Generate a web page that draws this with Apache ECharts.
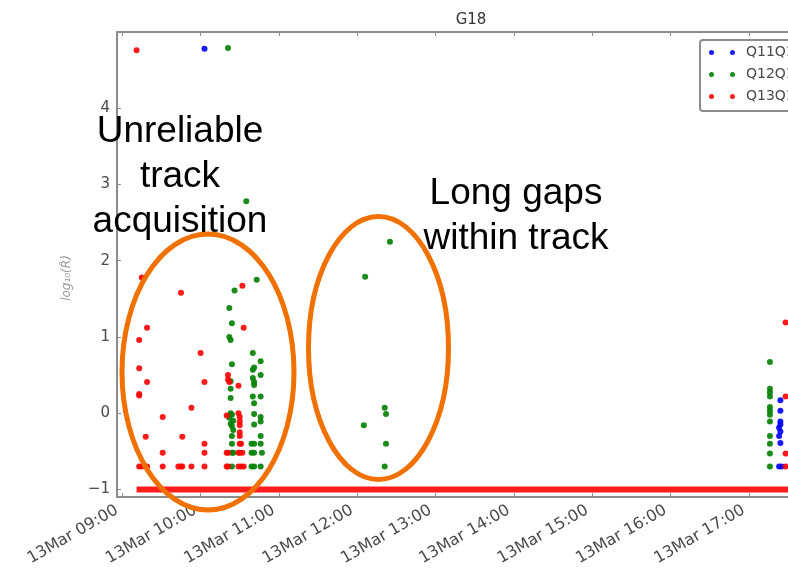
<!DOCTYPE html>
<html>
<head>
<meta charset="utf-8">
<script src="https://cdn.jsdelivr.net/npm/echarts@6/dist/echarts.min.js"></script>
<style>
  html, body { margin: 0; padding: 0; background: #fff; }
  #chart { width: 788px; height: 574px; }
</style>
</head>
<body>
<div id="chart"></div>
<script>
// Track quality for G18 on 13 March: log10 of R-hat per acquisition time (HH:MM)
const seriesNames = ['Q11Q12', 'Q12Q13', 'Q13Q11'];
const seriesColors = ['#0000ff', '#008000', '#ff0000'];

const q11Points = [
  ['10:03', 4.78],
  ['17:24', 0.17], ['17:24', 0.03], ['17:24', -0.11], ['17:24', -0.15],
  ['17:23', -0.19], ['17:24', -0.24], ['17:23', -0.30], ['17:24', -0.39],
  ['17:23', -0.70], ['17:25', -0.70]
];

const q12Points = [
  ['10:21', 4.79], ['10:35', 2.78],
  // 10:20 - 10:26 column
  ['10:26', 1.61], ['10:22', 1.38], ['10:24', 1.18], ['10:22', 1.00], ['10:23', 0.96],
  ['10:24', 0.64], ['10:23', 0.42], ['10:23', 0.32], ['10:23', 0.20], ['10:23', 0.00],
  ['10:24', -0.02], ['10:22', -0.06], ['10:25', -0.10], ['10:23', -0.14], ['10:24', -0.17],
  ['10:25', -0.22], ['10:24', -0.30], ['10:24', -0.40], ['10:24', -0.52], ['10:25', -0.52],
  ['10:24', -0.70],
  // 10:39 - 10:47 column
  ['10:43', 1.75], ['10:40', 0.79], ['10:46', 0.68], ['10:41', 0.60], ['10:40', 0.57],
  ['10:46', 0.50], ['10:40', 0.46], ['10:41', 0.41], ['10:41', 0.37], ['10:40', 0.22],
  ['10:46', 0.22], ['10:41', 0.13], ['10:41', -0.01], ['10:46', -0.05], ['10:46', -0.11],
  ['10:41', -0.15], ['10:46', -0.30],
  ['10:39', -0.40], ['10:41', -0.40], ['10:46', -0.40],
  ['10:39', -0.52], ['10:41', -0.52], ['10:47', -0.52],
  ['10:39', -0.70], ['10:41', -0.70], ['10:46', -0.70],
  // around 12:00 - 12:30
  ['12:25', 2.25], ['12:06', 1.79], ['12:21', 0.07], ['12:22', -0.01],
  ['12:05', -0.16], ['12:22', -0.40], ['12:21', -0.70],
  // around 17:16
  ['17:16', 0.67], ['17:16', 0.32], ['17:16', 0.27], ['17:16', 0.22], ['17:16', 0.08],
  ['17:16', 0.03], ['17:16', -0.02], ['17:16', -0.11], ['17:16', -0.30], ['17:16', -0.40],
  ['17:16', -0.53], ['17:16', -0.70]
];

const q13Points = [
  ['09:11', 4.76],
  // 09:10 - 10:05
  ['09:15', 1.78], ['09:45', 1.58], ['09:19', 1.12], ['09:13', 0.96], ['10:00', 0.79],
  ['09:13', 0.59], ['09:19', 0.41], ['10:03', 0.41], ['09:13', 0.25], ['09:13', 0.23],
  ['09:53', 0.07], ['09:31', -0.05], ['09:18', -0.31], ['09:46', -0.31], ['10:03', -0.40],
  ['09:31', -0.52], ['10:03', -0.52],
  ['09:13', -0.70], ['09:15', -0.70], ['09:19', -0.70], ['09:31', -0.70], ['09:43', -0.70],
  ['09:45', -0.70], ['09:46', -0.70], ['09:53', -0.70], ['10:03', -0.70],
  // 10:20 - 10:35
  ['10:32', 1.67], ['10:33', 1.12], ['10:21', 0.50], ['10:21', 0.44], ['10:22', 0.41],
  ['10:29', 0.36], ['10:20', -0.03], ['10:29', 0.00], ['10:30', -0.05], ['10:30', -0.11],
  ['10:30', -0.16], ['10:30', -0.25], ['10:30', -0.30], ['10:30', -0.40], ['10:31', -0.40],
  ['10:20', -0.52], ['10:21', -0.52], ['10:29', -0.52], ['10:30', -0.52], ['10:32', -0.52],
  ['10:20', -0.70], ['10:21', -0.70], ['10:29', -0.70], ['10:31', -0.70], ['10:33', -0.70],
  // around 17:28
  ['17:28', 1.19], ['17:28', 0.22], ['17:28', -0.53], ['17:28', -0.70]
];

// Floor value recorded continuously while the track is held
const floorSpan = [['09:11', -1], ['17:40', -1]];

const xTickHours = [9, 10, 11, 12, 13, 14, 15, 16, 17];
const xTickPrefix = '13Mar ';
const yTicks = [-1, 0, 1, 2, 3, 4];

function toHours(hhmm) {
  const parts = hhmm.split(':').map(Number);
  return parts[0] + parts[1] / 60;
}
function toXY(list) {
  return list.map(p => [toHours(p[0]), p[1]]);
}
function pad2(n) { return (n < 10 ? '0' : '') + n; }

const axisGray = '#8c8c8c';
const labelGray = '#4a4a4a';
// visible time window of the plot
const xMin = toHours('08:56');
const xMax = 17.497;

const chart = echarts.init(document.getElementById('chart'), null, { renderer: 'canvas' });

const pointSeries = [q11Points, q12Points, q13Points].map((pts, i) => ({
  name: seriesNames[i],
  type: 'scatter',
  data: toXY(pts),
  symbol: 'circle',
  symbolSize: 6,
  itemStyle: { color: seriesColors[i], opacity: 0.9 },
  z: 3 + i
}));

const option = {
  animation: false,
  backgroundColor: '#ffffff',
  title: {
    text: 'G18',
    left: 466,
    top: 8,
    textAlign: 'center',
    textStyle: { fontFamily: 'DejaVu Sans', fontSize: 15, fontWeight: 'normal', color: '#333' }
  },
  legend: {
    data: seriesNames,
    orient: 'vertical',
    left: 700,
    top: 40,
    padding: [5, 8, 7, 9],
    itemGap: 7,
    itemWidth: 26,
    itemHeight: 5,
    icon: 'path://M0,2.5A2.5,2.5,0,1,1,5,2.5A2.5,2.5,0,1,1,0,2.5ZM21,2.5A2.5,2.5,0,1,1,26,2.5A2.5,2.5,0,1,1,21,2.5Z',
    backgroundColor: '#fff',
    borderColor: axisGray,
    borderWidth: 2,
    borderRadius: 3,
    textStyle: { fontFamily: 'DejaVu Sans', fontSize: 14, color: labelGray, padding: [0, 0, 0, 6], lineHeight: 15 }
  },
  grid: { left: 117, top: 32, right: 0, height: 465 },
  xAxis: [
    {
      type: 'value',
      position: 'bottom',
      min: xMin,
      max: xMax,
      splitLine: { show: false },
      axisLine: { onZero: false, lineStyle: { color: axisGray, width: 2 } },
      axisTick: { inside: true, length: 4, customValues: xTickHours, lineStyle: { color: axisGray, width: 1 } },
      axisLabel: {
        customValues: xTickHours,
        rotate: 30,
        margin: 9,
        padding: [0, 6, 0, 0],
        fontFamily: 'DejaVu Sans',
        fontSize: 16,
        color: labelGray,
        formatter: v => xTickPrefix + pad2(Math.round(v)) + ':00'
      }
    },
    {
      type: 'value',
      position: 'top',
      min: xMin,
      max: xMax,
      splitLine: { show: false },
      axisLine: { onZero: false, lineStyle: { color: axisGray, width: 2 } },
      axisTick: { inside: true, length: 4, customValues: xTickHours, lineStyle: { color: axisGray, width: 1 } },
      axisLabel: { show: false }
    }
  ],
  yAxis: [
    {
      type: 'value',
      min: -1.1,
      max: 5,
      splitLine: { show: false },
      axisLine: { show: true, onZero: false, lineStyle: { color: axisGray, width: 2 } },
      axisTick: { show: true, inside: true, length: 4, customValues: yTicks, lineStyle: { color: axisGray, width: 1 } },
      axisLabel: {
        customValues: yTicks,
        margin: 7,
        fontFamily: 'DejaVu Sans',
        fontSize: 15,
        color: labelGray,
        formatter: v => (v < 0 ? '\u2212' + Math.abs(v) : String(v))
      }
    }
  ],
  series: [
    {
      name: 'floor',
      type: 'line',
      data: toXY(floorSpan),
      symbol: 'none',
      silent: true,
      lineStyle: { color: '#ff1010', width: 6, opacity: 0.95 },
      z: 2
    }
  ].concat(pointSeries),
  graphic: [
    {
      type: 'text', x: 67, y: 278, rotation: Math.PI / 2, z: 10,
      style: { text: 'log\u2081\u2080(R\u0302)', fontFamily: 'DejaVu Sans', fontStyle: 'italic', fontSize: 12, fill: '#9a9a9a', align: 'center', verticalAlign: 'middle' }
    },
    {
      type: 'ellipse', z: 20, silent: true,
      shape: { cx: 208, cy: 372, rx: 86, ry: 138 },
      style: { fill: 'none', stroke: '#f07000', lineWidth: 5 }
    },
    {
      type: 'ellipse', z: 20, silent: true,
      shape: { cx: 378.5, cy: 348, rx: 70, ry: 131.5 },
      style: { fill: 'none', stroke: '#f07000', lineWidth: 5 }
    },
    {
      type: 'text', x: 180, y: 132, z: 30,
      style: { text: 'Unreliable', fontFamily: 'Liberation Sans', fontSize: 37, fill: '#000', align: 'center', verticalAlign: 'middle' }
    },
    {
      type: 'text', x: 180, y: 177, z: 30,
      style: { text: 'track', fontFamily: 'Liberation Sans', fontSize: 37, fill: '#000', align: 'center', verticalAlign: 'middle' }
    },
    {
      type: 'text', x: 180, y: 222, z: 30,
      style: { text: 'acquisition', fontFamily: 'Liberation Sans', fontSize: 37, fill: '#000', align: 'center', verticalAlign: 'middle' }
    },
    {
      type: 'text', x: 516, y: 194, z: 30,
      style: { text: 'Long gaps', fontFamily: 'Liberation Sans', fontSize: 37, fill: '#000', align: 'center', verticalAlign: 'middle' }
    },
    {
      type: 'text', x: 516, y: 239, z: 30,
      style: { text: 'within track', fontFamily: 'Liberation Sans', fontSize: 37, fill: '#000', align: 'center', verticalAlign: 'middle' }
    }
  ]
};

chart.setOption(option);
</script>
</body>
</html>
